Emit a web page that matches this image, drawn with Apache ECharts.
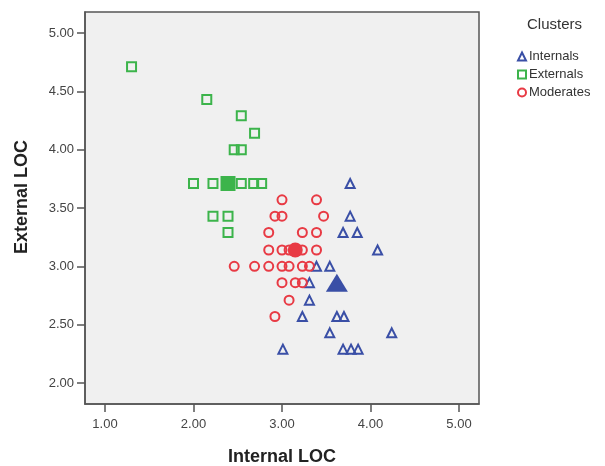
<!DOCTYPE html>
<html><head><meta charset="utf-8">
<script src="https://cdn.jsdelivr.net/npm/echarts@6/dist/echarts.min.js"></script>
<style>html,body{margin:0;padding:0;background:#fff}#c{width:605px;height:466px}</style>
</head><body><div id="c"></div>
<script>
// Tick values
var xTicks = [1, 2, 3, 4, 5];
var yTicks = [2, 2.5, 3, 3.5, 4, 4.5, 5];
var legendNames = ['Internals', 'Externals', 'Moderates'];

// Cluster members [Internal LOC, External LOC]
var internals = [
  [3.77, 3.71], [3.77, 3.43], [3.69, 3.29], [3.85, 3.29], [4.08, 3.14],
  [3.39, 3.00], [3.54, 3.00], [3.31, 2.86], [3.31, 2.71],
  [3.23, 2.57], [3.62, 2.57], [3.70, 2.57], [3.54, 2.43], [4.24, 2.43],
  [3.01, 2.29], [3.69, 2.29], [3.78, 2.29], [3.86, 2.29]
];
var externals = [
  [1.30, 4.71], [2.15, 4.43], [2.54, 4.29], [2.69, 4.14], [2.46, 4.00], [2.54, 4.00],
  [2.00, 3.71], [2.22, 3.71], [2.39, 3.71], [2.54, 3.71], [2.68, 3.71], [2.77, 3.71],
  [2.22, 3.43], [2.39, 3.43], [2.39, 3.29]
];
var moderates = [
  [3.00, 3.57], [3.39, 3.57],
  [2.92, 3.43], [3.00, 3.43], [3.47, 3.43],
  [2.85, 3.29], [3.23, 3.29], [3.39, 3.29],
  [2.85, 3.14], [3.00, 3.14], [3.08, 3.14], [3.23, 3.14], [3.39, 3.14],
  [2.46, 3.00], [2.69, 3.00], [2.85, 3.00], [3.00, 3.00], [3.08, 3.00], [3.23, 3.00], [3.31, 3.00],
  [3.00, 2.86], [3.15, 2.86], [3.23, 2.86],
  [3.08, 2.71], [2.92, 2.57]
];
// Cluster centroids
var internalsCenter = [[3.62, 2.86]];
var externalsCenter = [[2.39, 3.71]];
var moderatesCenter = [[3.15, 3.14]];

var BLUE = '#3a4fa6', GREEN = '#3cb44b', RED = '#e83a44';
var FONT = '"Liberation Sans", Arial, sans-serif';

var chart = echarts.init(document.getElementById('c'), null, {renderer: 'canvas'});
chart.setOption({
  backgroundColor: '#fff',
  animation: false,
  title: {
    text: 'Clusters', left: 522, top: 12,
    textStyle: {fontFamily: FONT, fontSize: 15, fontWeight: 'normal', color: '#333'}
  },
  legend: {
    data: legendNames, orient: 'vertical', left: 512, top: 45,
    itemGap: 5, itemWidth: 8, itemHeight: 8,
    textStyle: {fontFamily: FONT, fontSize: 13, color: '#333', padding: [0, 0, 0, -2]}
  },
  grid: {
    left: 85, right: 126, top: 12, bottom: 62, outerBoundsMode: 'none', containLabel: false,
    show: true, backgroundColor: '#f0f0f0', borderColor: '#555', borderWidth: 1.5
  },
  xAxis: {
    type: 'value', min: 0.774, max: 5.226,
    name: 'Internal LOC', nameLocation: 'middle', nameGap: 44,
    nameTextStyle: {fontFamily: FONT, fontSize: 18, fontWeight: 'bold', color: '#222'},
    axisLine: {show: true, onZero: false, lineStyle: {color: '#555', width: 1.5}},
    axisTick: {show: true, length: 8, customValues: xTicks, lineStyle: {color: '#555', width: 1.5}},
    axisLabel: {customValues: xTicks, margin: 14, fontFamily: FONT, fontSize: 13, color: '#444',
      formatter: function (v) { return v.toFixed(2); }},
    splitLine: {show: false}
  },
  yAxis: {
    type: 'value', min: 1.82, max: 5.18,
    name: 'External LOC', nameLocation: 'middle', nameGap: 54, nameRotate: 90,
    nameTextStyle: {fontFamily: FONT, fontSize: 18, fontWeight: 'bold', color: '#222', padding: [0, 0, 0, 22]},
    axisLine: {show: true, onZero: false, lineStyle: {color: '#555', width: 1.5}},
    axisTick: {show: true, length: 8, customValues: yTicks, lineStyle: {color: '#555', width: 1.5}},
    axisLabel: {customValues: yTicks, margin: 11, fontFamily: FONT, fontSize: 13, color: '#444',
      formatter: function (v) { return v.toFixed(2); }},
    splitLine: {show: false}
  },
  series: [
    {name: 'Internals', type: 'scatter', data: internals, symbol: 'triangle', symbolSize: 9,
      itemStyle: {color: 'rgba(0,0,0,0)', borderColor: BLUE, borderWidth: 2, opacity: 1}},
    {name: 'Externals', type: 'scatter', data: externals, symbol: 'rect', symbolSize: 9,
      itemStyle: {color: 'rgba(0,0,0,0)', borderColor: GREEN, borderWidth: 2, opacity: 1}},
    {name: 'Moderates', type: 'scatter', data: moderates, symbol: 'circle', symbolSize: 9,
      itemStyle: {color: 'rgba(0,0,0,0)', borderColor: RED, borderWidth: 2, opacity: 1}},
    {name: 'Internals centroid', type: 'scatter', data: internalsCenter, symbol: 'triangle', symbolSize: [22, 18],
      itemStyle: {color: BLUE, opacity: 1}, z: 5},
    {name: 'Externals centroid', type: 'scatter', data: externalsCenter, symbol: 'rect', symbolSize: 15,
      itemStyle: {color: GREEN, opacity: 1}, z: 5},
    {name: 'Moderates centroid', type: 'scatter', data: moderatesCenter, symbol: 'circle', symbolSize: 15,
      itemStyle: {color: RED, opacity: 1}, z: 5}
  ]
});
</script></body></html>
